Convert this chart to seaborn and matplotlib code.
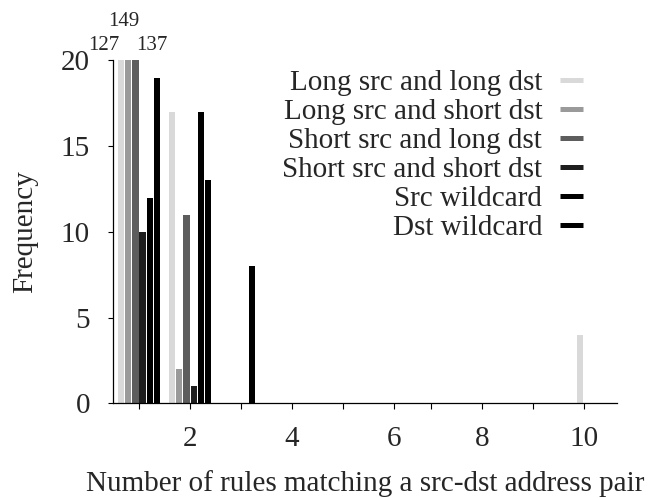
import matplotlib
matplotlib.use("Agg")
import matplotlib.pyplot as plt
from matplotlib.lines import Line2D
import seaborn as sns
import pandas as pd

# ---- data ----
categories = [1, 2, 3, 4, 5, 6, 7, 8, 9, 10]
series_names = [
    "Long src and long dst",
    "Long src and short dst",
    "Short src and long dst",
    "Short src and short dst",
    "Src wildcard",
    "Dst wildcard",
]
long_long = [127, 17, 0, 0, 0, 0, 0, 0, 0, 4]
long_short = [149, 2, 0, 0, 0, 0, 0, 0, 0, 0]
short_long = [137, 11, 0, 0, 0, 0, 0, 0, 0, 0]
short_short = [10, 1, 0, 0, 0, 0, 0, 0, 0, 0]
src_wild = [12, 17, 8, 0, 0, 0, 0, 0, 0, 0]
dst_wild = [19, 13, 0, 0, 0, 0, 0, 0, 0, 0]
colors = ["#d9d9d9", "#9a9a9a", "#5d5d5d", "#1e1e1e", "#000000", "#000000"]

tick_positions = [0, 1, 2, 3, 4, 5, 5.725, 6.725, 7.725, 8.73]
tick_labels = ["", "2", "", "4", "", "6", "", "8", "", "10"]
overflow_labels = ["127", "149", "137"]
overflow_pos = [(-0.686, 20.61), (-0.294, 22.01), (0.255, 20.61)]

all_vals = [long_long, long_short, short_long, short_short, src_wild, dst_wild]
rows = []
for name, vals in zip(series_names, all_vals):
    for c, v in zip(categories, vals):
        rows.append({"x": c, "Frequency": v, "series": name})
df = pd.DataFrame(rows)

sns.set_style("ticks")
plt.rcParams["font.family"] = ["Liberation Serif", "DejaVu Serif"]
plt.rcParams["xtick.major.size"] = 4.3
plt.rcParams["ytick.major.size"] = 3.6
plt.rcParams["xtick.major.width"] = 0.8
plt.rcParams["ytick.major.width"] = 0.8

FS = 21

fig = plt.figure(figsize=(6.58, 4.98), dpi=100)
ax = fig.add_axes([113 / 658, 1 - 403.3 / 498, (617 - 113) / 658, (403.3 - 60.5) / 498])

sns.barplot(data=df, x="x", y="Frequency", hue="series", hue_order=series_names,
            order=categories, palette=colors, width=0.854, gap=0.13,
            errorbar=None, linewidth=0, legend=False, ax=ax)

ax.set_xlim(-0.51, 9.37)
ax.set_ylim(0, 20)
ax.set_yticks([0, 5, 10, 15, 20])
ax.set_xticks(tick_positions)
ax.set_xticklabels(tick_labels)
ax.tick_params(axis="both", labelsize=FS, color="black")
ax.tick_params(axis="x", pad=12)
ax.tick_params(axis="y", pad=13)
for s in ["top", "right"]:
    ax.spines[s].set_visible(False)
for s in ["left", "bottom"]:
    ax.spines[s].set_color("black")
    ax.spines[s].set_linewidth(0.9)

ax.set_xlabel("Number of rules matching a src-dst address pair", fontsize=FS, labelpad=13)
ax.set_ylabel("Frequency", fontsize=FS, labelpad=16)

for lab, (px, py) in zip(overflow_labels, overflow_pos):
    ax.text(px, py, lab, ha="center", va="baseline", fontsize=15, clip_on=False)

handles = [Line2D([0], [0], color=c, lw=3.6, solid_capstyle="butt") for c in colors]
ax.legend(handles, series_names, loc="upper right", markerfirst=False, frameon=False,
          fontsize=FS, handlelength=0.78, handletextpad=0.62, labelspacing=0.09,
          borderpad=0, borderaxespad=0,
          bbox_to_anchor=(583 / 658, 1 - 69.5 / 498), bbox_transform=fig.transFigure)

fig.savefig("out.png", dpi=100)
